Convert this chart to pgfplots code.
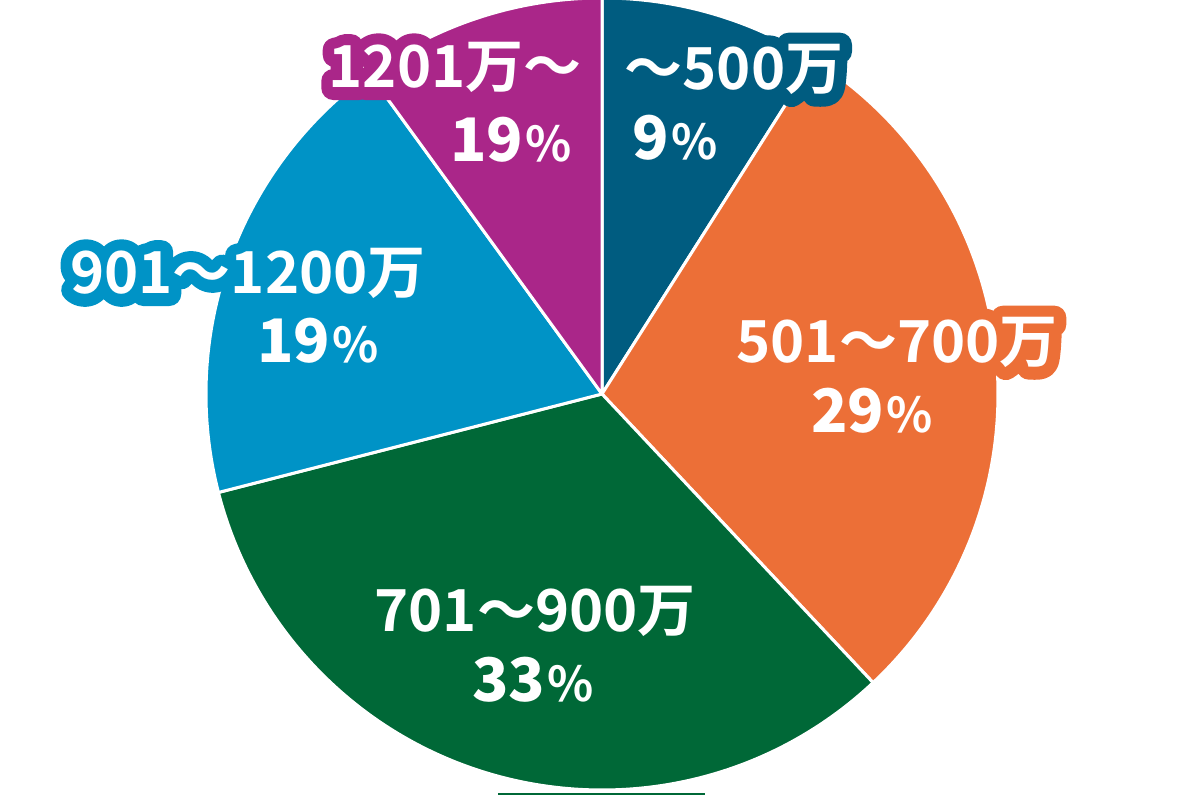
\documentclass[border=0pt]{standalone}
\usepackage{pgfplots}
\pgfplotsset{compat=1.18}
\usepackage{pgfplotstable}
\usepackage{fontspec}
\newfontfamily\jpb{Noto Sans CJK JP Bold}
\IfFontExistsTF{Noto Sans CJK JP Black}
  {\newfontfamily\jpk{Noto Sans CJK JP Black}}
  {\newfontfamily\jpk{Noto Sans CJK JP Bold}[FakeBold=1.5]}

\definecolor{cA}{HTML}{005C80}
\definecolor{cB}{HTML}{EC6F37}
\definecolor{cC}{HTML}{006837}
\definecolor{cD}{HTML}{0093C6}
\definecolor{cE}{HTML}{AA2689}

% share of each income band, clockwise from 12 o'clock
\pgfplotstableread{
value col
9  cA
29 cB
33 cC
19 cD
10 cE
}\slices

% white text with a stroke of colour #1 round it
\newcommand\outl[2]{\leavevmode\rlap{\color{#1}\special{pdf:literal direct 2 Tr 12 w 1 j 1 J}#2\special{pdf:literal direct 0 Tr}}{\color{white}#2}}
\newcommand\lineA[2]{{\jpb\fontsize{29}{29}\selectfont\outl{#1}{#2}}}
\newcommand\lineB[1]{{\jpk\fontsize{30}{30}\selectfont\color{white}#1\hspace{1pt}{\jpb\fontsize{24}{24}\selectfont\%}}}

\begin{document}
\begin{tikzpicture}
\begin{axis}[
  scale only axis, width=600pt, height=397.5pt,
  xmin=0, xmax=1200, ymin=0, ymax=795, y dir=reverse,
  hide axis, clip=true,
]
\path (axis cs:0,0) rectangle (axis cs:1200,795);
\pgfplotstablegetrowsof{\slices}
\pgfmathtruncatemacro\nrows{\pgfplotsretval-1}
\def\angA{90}
\pgfplotsforeachungrouped \i in {0,...,\nrows}{%
  \pgfplotstablegetelem{\i}{value}\of\slices \let\v\pgfplotsretval
  \pgfplotstablegetelem{\i}{col}\of\slices \let\c\pgfplotsretval
  \pgfmathsetmacro\angB{\angA-3.6*\v}
  \edef\temp{\noexpand\fill[\c, draw=white, line width=1.5pt, line join=round]
    (axis cs:602,394) -- ++(\angA:198pt) arc[start angle=\angA, end angle=\angB, radius=198pt] -- cycle;}
  \temp
  \let\angA\angB
}
\fill[cC] (axis cs:498,793) rectangle (axis cs:705,795);

\tikzset{lab/.style={inner sep=0pt, anchor=base}}
\node[lab] at (axis cs:734,90) {\lineA{cA}{～500万}};
\node[lab] at (axis cs:675,160) {\lineB{9}};
\node[lab] at (axis cs:455,88) {\lineA{cE}{1201万～}};
\node[lab] at (axis cs:511,162) {\lineB{19}};
\node[lab] at (axis cs:248,294) {\lineA{cD}{901～1200万}};
\node[lab] at (axis cs:318,363) {\lineB{19}};
\node[lab] at (axis cs:897,363) {\lineA{cB}{501～700万}};
\node[lab] at (axis cs:872,433) {\lineB{29}};
\node[lab] at (axis cs:535,632) {\lineA{cC}{701～900万}};
\node[lab] at (axis cs:533,702) {\lineB{33}};
\end{axis}
\end{tikzpicture}
\end{document}
